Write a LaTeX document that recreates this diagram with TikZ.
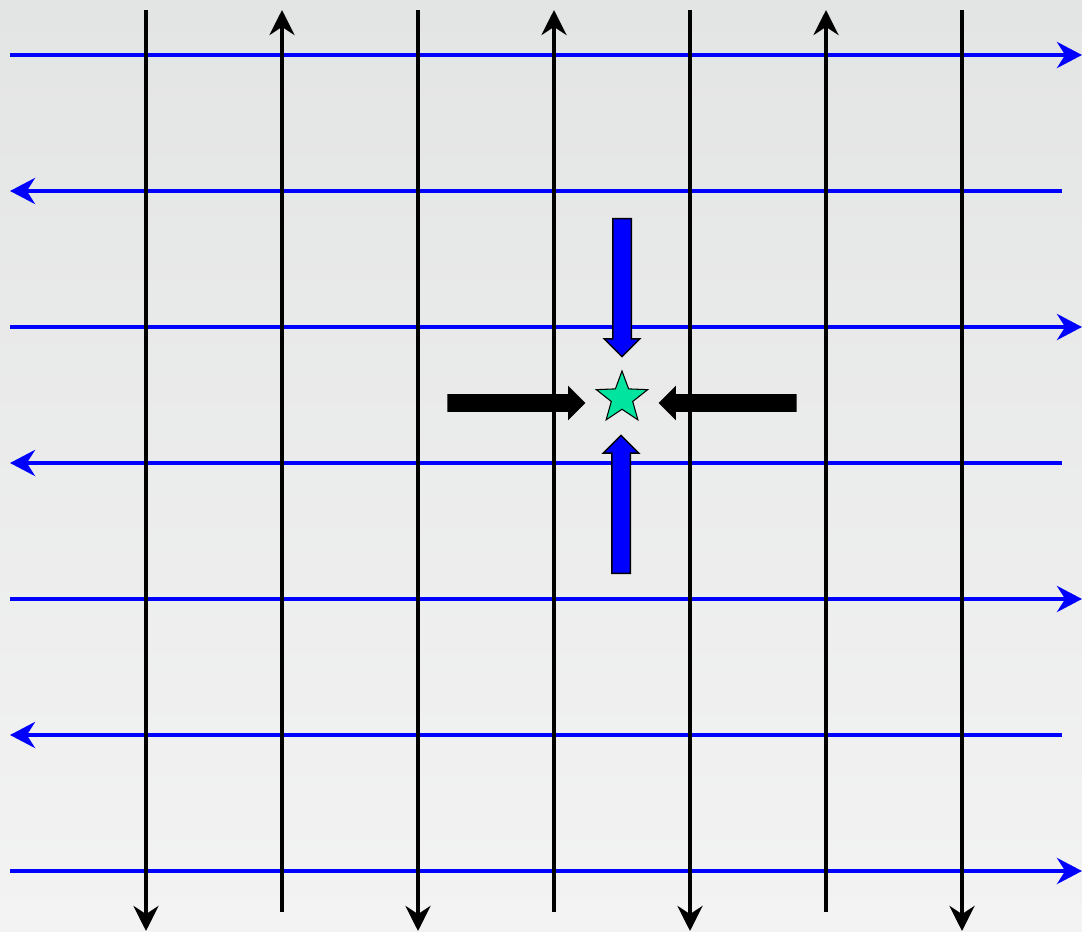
\documentclass[tikz,border=0pt]{standalone}
\usetikzlibrary{arrows.meta, shapes.geometric, shapes.arrows, positioning}
\definecolor{bgtop}{RGB}{227,228,228}
\definecolor{bgbot}{RGB}{243,243,243}
\definecolor{laneblue}{RGB}{0,0,255}
\definecolor{starfill}{RGB}{0,228,160}

\begin{document}
\begin{tikzpicture}[
  x=0.02cm, y=-0.02cm,
  lane/.style={line width=0.09cm, laneblue, -{Stealth[length=0.5cm, width=0.52cm]}},
  track/.style={line width=0.09cm, black, -{Stealth[length=0.5cm, width=0.5cm]}},
  push/.style={single arrow, inner xsep=0pt, inner ysep=0.17cm, minimum height=2.76cm,
    single arrow head extend=0.17cm, single arrow head indent=0pt},
  pushblue/.style={push, draw=black, line width=0.03cm, fill=laneblue},
  pushblack/.style={push, fill=black},
]
\useasboundingbox (0,0) rectangle (1082,932);
\shade[top color=bgtop, bottom color=bgbot] (0,0) rectangle (1082,932);
\foreach \y in {55,327,599,871}{ \draw[lane] (10,\y) -- (1082,\y); }
\foreach \y in {191,463,735}{ \draw[lane] (1062,\y) -- (10,\y); }
\foreach \x in {146,418,690,962}{ \draw[track] (\x,10) -- (\x,931); }
\foreach \x in {282,554,826}{ \draw[track] (\x,912) -- (\x,10); }
\node[star, star points=5, star point ratio=2.4, draw, line width=0.6pt, fill=starfill,
  minimum size=1.08cm, inner sep=0pt] (target) at (622,398) {};
\node[pushblue, rotate=270] (pushN) at (622,283) {};
\node[pushblue, rotate=90] (pushS) at (621,509) {};
\node[pushblack] (pushW) at (512,403) {};
\node[pushblack, rotate=180] (pushE) at (732,403) {};
\end{tikzpicture}
\end{document}
